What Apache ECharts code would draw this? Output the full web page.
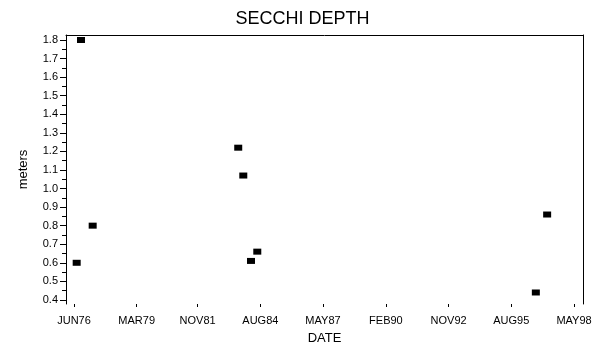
<!DOCTYPE html>
<html>
<head>
<meta charset="utf-8">
<script src="https://cdn.jsdelivr.net/npm/echarts@6/dist/echarts.min.js"></script>
<style>html,body{margin:0;padding:0;background:#fff}#c{width:605px;height:354px}</style>
</head>
<body>
<div id="c"></div>
<script>
// ---- data ----
const sampleDates = ['1976-07-14','1976-09-21','1977-03-27','1983-08-13','1983-11-02','1984-03-04','1984-06-13','1996-08-28','1997-02-25'];
const secchiMeters = [0.60, 1.80, 0.80, 1.22, 1.07, 0.61, 0.66, 0.44, 0.86];
const xTickDates = ['1976-06-01','1979-03-01','1981-11-01','1984-08-01','1987-05-01','1990-02-01','1992-11-01','1995-08-01','1998-05-01'];
const xTickLabels = ['JUN76','MAR79','NOV81','AUG84','MAY87','FEB90','NOV92','AUG95','MAY98'];
const yTickValues = [0.4,0.5,0.6,0.7,0.8,0.9,1.0,1.1,1.2,1.3,1.4,1.5,1.6,1.7,1.8];
const yMinorValues = [0.45,0.55,0.65,0.75,0.85,0.95,1.05,1.15,1.25,1.35,1.45,1.55,1.65,1.75];

const DAY = 86400000;
const ms = s => Date.parse(s + 'T00:00:00Z');
const xTicksMs = xTickDates.map(ms);
const labelMap = {};
xTicksMs.forEach((v, i) => { labelMap[v] = xTickLabels[i]; });
const xMin = xTicksMs[0] - 128 * DAY;
const xMax = xTicksMs[xTicksMs.length - 1] + 144 * DAY;

const font = 'Liberation Sans, Arial, sans-serif';
const chart = echarts.init(document.getElementById('c'), null, {renderer: 'canvas'});
chart.setOption({
  animation: false,
  backgroundColor: '#fff',
  title: {
    text: 'SECCHI DEPTH', left: 'center', top: 5,
    textStyle: {fontFamily: font, fontSize: 18, fontWeight: 'normal', color: '#000'}
  },
  grid: {left: 66, right: 22, top: 35, bottom: 50, containLabel: false},
  xAxis: [{
    type: 'value', min: xMin, max: xMax, position: 'bottom',
    name: 'DATE', nameLocation: 'middle', nameGap: 28,
    nameTextStyle: {fontFamily: font, fontSize: 13, color: '#000'},
    axisLine: {show: false},
    axisTick: {show: true, inside: false, length: 3, customValues: xTicksMs, lineStyle: {color: '#000'}},
    axisLabel: {show: true, margin: 11, customValues: xTicksMs, fontFamily: font, fontSize: 11, color: '#000',
      formatter: v => labelMap[v] || ''},
    splitLine: {show: false}
  }, {
    type: 'value', min: xMin, max: xMax, position: 'top',
    axisLine: {show: true, onZero: false, lineStyle: {color: '#000', width: 1}},
    axisTick: {show: false}, axisLabel: {show: false}, splitLine: {show: false}
  }],
  yAxis: [{
    type: 'value', min: 0.378, max: 1.827, position: 'left',
    name: 'meters', nameLocation: 'middle', nameGap: 36, nameRotate: 90,
    nameTextStyle: {fontFamily: font, fontSize: 13, color: '#000'},
    axisLine: {show: true, onZero: false, lineStyle: {color: '#000', width: 1}},
    axisTick: {show: true, length: 6, customValues: yTickValues, lineStyle: {color: '#000'}},
    axisLabel: {show: true, margin: 8, customValues: yTickValues, fontFamily: font, fontSize: 11, color: '#000',
      formatter: v => v.toFixed(1)},
    splitLine: {show: false}
  }, {
    type: 'value', min: 0.378, max: 1.827, position: 'left',
    axisLine: {show: false},
    axisTick: {show: true, length: 4, customValues: yMinorValues, lineStyle: {color: '#000'}},
    axisLabel: {show: false}, splitLine: {show: false}
  }, {
    type: 'value', min: 0.378, max: 1.827, position: 'right',
    axisLine: {show: true, onZero: false, lineStyle: {color: '#000', width: 1}},
    axisTick: {show: false}, axisLabel: {show: false}, splitLine: {show: false}
  }],
  series: [{
    type: 'scatter', xAxisIndex: 0, yAxisIndex: 0,
    symbol: 'rect', symbolSize: [8, 6],
    itemStyle: {color: '#000', opacity: 1},
    data: sampleDates.map((d, i) => [ms(d), secchiMeters[i]])
  }]
});
</script>
</body>
</html>
